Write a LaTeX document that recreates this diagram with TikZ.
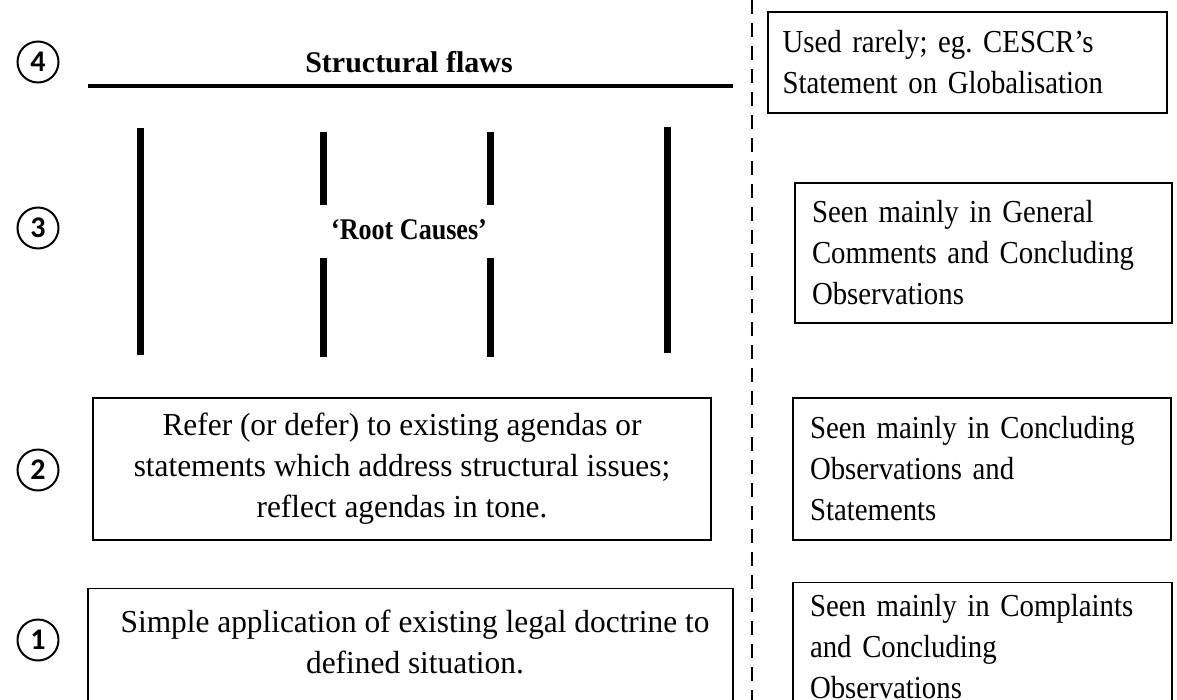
\documentclass[tikz,border=0pt]{standalone}
\usepackage{fontspec}
\setmainfont{Liberation Serif}
\newfontfamily\numfont{Carlito}
\newfontfamily\rfont[FakeStretch=0.9]{Liberation Serif}
\newfontfamily\lfont[FakeStretch=0.98]{Liberation Serif}
\newfontfamily\rcfont[FakeStretch=0.87]{Liberation Serif}
\frenchspacing
\begin{document}
\begin{tikzpicture}[x=1pt,y=-1pt,
  numc/.style={circle,draw,line width=2pt,minimum size=41pt,inner sep=0pt,font=\numfont\fontsize{30}{32}\selectfont\bfseries},
  bar/.style={line width=7pt},
  lbox/.style={draw,line width=1.2pt,inner sep=0pt},
  txt/.style={align=center,inner sep=0pt,font=\lfont\fontsize{32}{41}\selectfont},
  rtxt/.style={align=left,inner sep=0pt,font=\rfont\fontsize{32}{41}\selectfont},
  btxt/.style={inner sep=0pt}]
\useasboundingbox (0,0) rectangle (1177,699);
% circled numbers
\node[numc] (n4) at (38,62) {4};
\node[numc] (n3) at (38,228) {3};
\node[numc] (n2) at (38,470) {2};
\node[numc] (n1) at (38,640) {1};
% structural flaws
\node[btxt,font=\fontsize{30}{32}\selectfont\bfseries] (sf) at (409,62) {Structural flaws};
\coordinate (h1) at (88,86);
\coordinate (h2) at (733,86);
\draw[line width=4pt] (h1) -- (h2);
% root causes bars
\coordinate (a1) at (140,128); \coordinate (a2) at (140,355);
\coordinate (b1) at (323,132); \coordinate (b2) at (323,205);
\coordinate (b3) at (323,258); \coordinate (b4) at (323,357);
\coordinate (c1) at (490,132); \coordinate (c2) at (490,205);
\coordinate (c3) at (490,258); \coordinate (c4) at (490,357);
\coordinate (d1) at (667,127); \coordinate (d2) at (667,353);
\draw[bar] (a1) -- (a2);
\draw[bar] (b1) -- (b2);
\draw[bar] (b3) -- (b4);
\draw[bar] (c1) -- (c2);
\draw[bar] (c3) -- (c4);
\draw[bar] (d1) -- (d2);
\node[btxt,font=\rcfont\fontsize{30}{32}\selectfont\bfseries] (rc) at (409,230) {‘Root Causes’};
% dashed divider
\coordinate (v1) at (752,0);
\coordinate (v2) at (752,710);
\draw[line width=2pt,dash pattern=on 14pt off 9pt] (v1) -- (v2);
% right boxes
\node[lbox,minimum width=399pt,minimum height=101pt] (r4) at (967.5,62.5) {};
\node[rtxt,text width=370pt] (r4t) at (r4) {Used rarely; eg. CESCR’s\\Statement on Globalisation};
\node[lbox,minimum width=377pt,minimum height=140pt] (r3) at (983.5,253) {};
\node[rtxt,text width=343pt] (r3t) at (r3) {Seen mainly in General\\Comments and Concluding\\Observations};
\node[lbox,minimum width=378pt,minimum height=142pt] (r2) at (982,469) {};
\node[rtxt,text width=344pt] (r2t) at (r2) {Seen mainly in Concluding\\Observations and\\Statements};
\node[lbox,minimum width=379pt,minimum height=150pt,anchor=north] (r1) at (982.5,582) {};
\node[rtxt,text width=345pt] (r1t) at (982.5,647) {Seen mainly in Complaints\\and Concluding\\Observations};
% left boxes
\node[lbox,minimum width=618pt,minimum height=142pt] (l2) at (402,469) {};
\node[txt] (l2t) at (l2) {Refer (or defer) to existing agendas or\\statements which address structural issues;\\reflect agendas in tone.};
\node[lbox,minimum width=645pt,minimum height=150pt,anchor=north] (l1) at (410.5,588) {};
\node[txt] (l1t) at (415,642) {Simple application of existing legal doctrine to\\defined situation.};
\end{tikzpicture}
\end{document}
